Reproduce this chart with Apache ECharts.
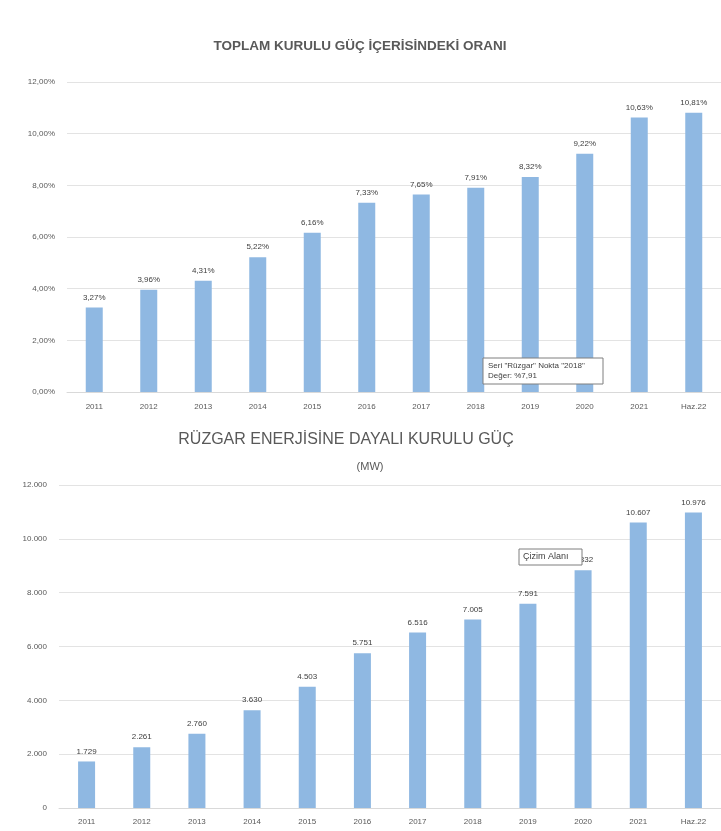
<!DOCTYPE html>
<html>
<head>
<meta charset="utf-8">
<script src="https://cdn.jsdelivr.net/npm/echarts@6/dist/echarts.min.js"></script>
<style>
  html, body { margin: 0; padding: 0; background: #fff; }
  #chart-container { width: 721px; height: 831px; }
</style>
</head>
<body>
<div id="chart-container"></div>
<script>
// kategoriler
var years = ["2011", "2012", "2013", "2014", "2015", "2016", "2017", "2018", "2019", "2020", "2021", "Haz.22"];
// toplam kurulu güç içindeki oran (%)
var sharePct = [3.27, 3.96, 4.31, 5.22, 6.16, 7.33, 7.65, 7.91, 8.32, 9.22, 10.63, 10.81];
// rüzgar kurulu gücü (MW)
var windMW = [1729, 2261, 2760, 3630, 4503, 5751, 6516, 7005, 7591, 8832, 10607, 10976];

var topTitle = "TOPLAM KURULU GÜÇ İÇERİSİNDEKİ ORANI";
var bottomTitle = "RÜZGAR ENERJİSİNE DAYALI KURULU GÜÇ";
var bottomSub = "(MW)";

var barColor = "#8fb8e2";
var font = "'Liberation Sans', Arial, sans-serif";

function trPct(v) {
  return v.toFixed(2).replace(".", ",") + "%";
}
function trNum(v) {
  return String(Math.round(v)).replace(/\B(?=(\d{3})+(?!\d))/g, ".");
}

var dom = document.getElementById("chart-container");
var myChart = echarts.init(dom, null, { renderer: "canvas" });

var option = {
  animation: false,
  backgroundColor: "#ffffff",
  title: [
    {
      text: topTitle,
      left: 355, top: 34, textAlign: "center",
      textStyle: { fontFamily: font, fontSize: 13.5, fontWeight: "bold", color: "#595959" }
    },
    {
      text: bottomTitle,
      left: 341, top: 427, textAlign: "center",
      textStyle: { fontFamily: font, fontSize: 16, fontWeight: "normal", color: "#595959" }
    },
    {
      text: bottomSub,
      left: 365, top: 456, textAlign: "center",
      textStyle: { fontFamily: font, fontSize: 11, fontWeight: "normal", color: "#595959" }
    }
  ],
  grid: [
    { left: 67, top: 82, width: 664, height: 310 },
    { left: 59, top: 485, width: 664, height: 323 }
  ],
  xAxis: [
    {
      type: "category", gridIndex: 0, data: years,
      axisLine: { lineStyle: { color: "#d9d9d9" } },
      axisTick: { show: false },
      axisLabel: { margin: 11, fontFamily: font, fontSize: 8, color: "#595959" }
    },
    {
      type: "category", gridIndex: 1, data: years,
      axisLine: { lineStyle: { color: "#d9d9d9" } },
      axisTick: { show: false },
      axisLabel: { margin: 10, fontFamily: font, fontSize: 8, color: "#595959" }
    }
  ],
  yAxis: [
    {
      type: "value", gridIndex: 0, min: 0, max: 12, interval: 2,
      axisLabel: { margin: 12, fontFamily: font, fontSize: 8, color: "#595959", formatter: trPct },
      splitLine: { lineStyle: { color: "#e3e3e3" } }
    },
    {
      type: "value", gridIndex: 1, min: 0, max: 12000, interval: 2000,
      axisLabel: { margin: 12, fontFamily: font, fontSize: 8, color: "#595959", formatter: trNum },
      splitLine: { lineStyle: { color: "#e3e3e3" } }
    }
  ],
  series: [
    {
      name: "Rüzgar", type: "bar", xAxisIndex: 0, yAxisIndex: 0,
      data: sharePct, barWidth: 17,
      itemStyle: { color: barColor },
      label: {
        show: true, position: "top", distance: 6,
        fontFamily: font, fontSize: 8, color: "#404040",
        formatter: function (p) { return trPct(p.value); }
      }
    },
    {
      name: "Kurulu Güç", type: "bar", xAxisIndex: 1, yAxisIndex: 1,
      data: windMW, barWidth: 17,
      itemStyle: { color: barColor },
      label: {
        show: true, position: "top", distance: 6,
        fontFamily: font, fontSize: 8, color: "#404040",
        formatter: function (p) { return trNum(p.value); }
      }
    }
  ],
  graphic: [
    { type: "rect", z: 100, shape: { x: 483, y: 358, width: 120, height: 26 },
      style: { fill: "#ffffff", stroke: "#7f7f7f", lineWidth: 1 } },
    { type: "text", z: 101, x: 488, y: 361,
      style: { text: "Seri \"Rüzgar\" Nokta \"2018\"\nDeğer: %7,91", fontFamily: font,
               fontSize: 8, lineHeight: 10, fill: "#404040" } },
    { type: "rect", z: 100, shape: { x: 519, y: 549, width: 63, height: 16 },
      style: { fill: "#ffffff", stroke: "#7f7f7f", lineWidth: 1 } },
    { type: "text", z: 101, x: 523, y: 552,
      style: { text: "Çizim Alanı", fontFamily: font, fontSize: 9, fill: "#404040" } }
  ]
};

if (option && typeof option === "object") {
  myChart.setOption(option);
}

window.addEventListener("resize", myChart.resize);
</script>
</body>
</html>
